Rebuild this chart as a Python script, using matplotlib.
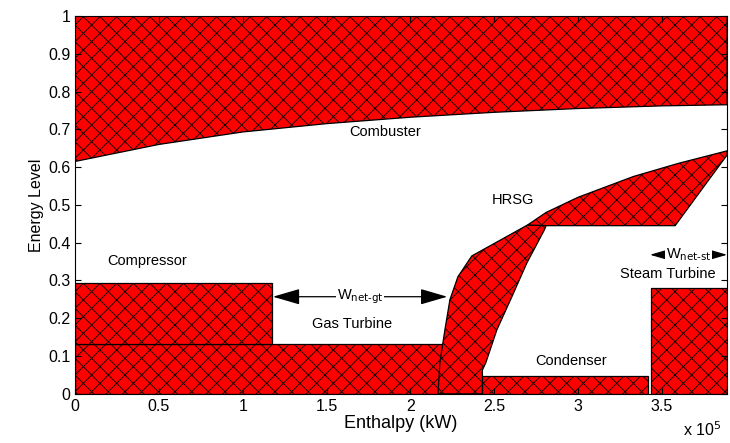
import matplotlib
matplotlib.use('Agg')
import matplotlib.pyplot as plt
import matplotlib.patches as mpatches
import numpy as np

plt.rcParams['font.family'] = ['Liberation Sans', 'DejaVu Sans']
plt.rcParams['hatch.linewidth'] = 0.6

# enthalpy in units of 1e5 kW, energy level 0..1
comb_x = [0.0, 0.5, 1.0, 1.5, 2.0, 2.5, 3.0, 3.5, 3.89]
comb_y = [0.615, 0.66, 0.693, 0.715, 0.732, 0.745, 0.755, 0.762, 0.765]

compressor = (0.0, 1.175, 0.132, 0.294)    # x0, x1, y0, y1
gas_turbine = (0.0, 2.2, 0.0, 0.132)
condenser = (2.43, 3.417, 0.0, 0.048)
steam_turbine = (3.435, 3.89, 0.0, 0.28)

hrsg_out_x = [2.165, 2.176, 2.206, 2.236, 2.284, 2.367, 2.70]
hrsg_out_y = [0.0, 0.082, 0.169, 0.249, 0.31, 0.365, 0.447]
hrsg_in_x = [2.43, 2.43, 2.45, 2.516, 2.606, 2.695, 2.80, 2.81]
hrsg_in_y = [0.0, 0.063, 0.082, 0.169, 0.257, 0.346, 0.434, 0.445]
hrsg_top_x = [2.70, 2.81, 3.0, 3.33, 3.6, 3.89]
hrsg_top_y = [0.447, 0.48, 0.52, 0.575, 0.61, 0.643]
hrsg_low_x = [3.89, 3.58, 2.81]
hrsg_low_y = [0.632, 0.445, 0.445]

x_max = 3.89

fig = plt.figure(figsize=(7.30, 4.43), dpi=100)
ax = fig.add_axes([0.103, 0.111, 0.893, 0.853])

style = dict(facecolor='#ff0000', edgecolor='black', hatch='xx', linewidth=0.9)

def rect(r):
    x0, x1, y0, y1 = r
    return mpatches.Rectangle((x0, y0), x1 - x0, y1 - y0, **style)

# combustor: from curve up to 1
top = list(zip(comb_x, comb_y)) + [(x_max, 1.0), (0.0, 1.0)]
ax.add_patch(mpatches.Polygon(top, closed=True, **style))

ax.add_patch(rect(gas_turbine))
ax.add_patch(rect(compressor))
ax.add_patch(rect(condenser))
ax.add_patch(rect(steam_turbine))

# HRSG lower band
low = list(zip(hrsg_out_x, hrsg_out_y)) + list(zip(hrsg_in_x, hrsg_in_y))[::-1]
ax.add_patch(mpatches.Polygon(low, closed=True, **style))
# HRSG upper band
up = list(zip(hrsg_top_x, hrsg_top_y)) + list(zip(hrsg_low_x, hrsg_low_y))
ax.add_patch(mpatches.Polygon(up, closed=True, **style))

fs = 10.5
ax.text(1.85, 0.693, 'Combuster', ha='center', va='center', fontsize=fs)
ax.text(2.61, 0.513, 'HRSG', ha='center', va='center', fontsize=fs)
ax.text(0.43, 0.352, 'Compressor', ha='center', va='center', fontsize=fs)
ax.text(1.65, 0.185, 'Gas Turbine', ha='center', va='center', fontsize=fs)
ax.text(2.96, 0.088, 'Condenser', ha='center', va='center', fontsize=fs)
ax.text(3.535, 0.317, 'Steam Turbine', ha='center', va='center', fontsize=fs)

arrow = dict(arrowstyle='-|>,head_length=1.2,head_width=0.35', color='black',
             lw=0.9, mutation_scale=14, shrinkA=0, shrinkB=0)
ax.annotate('', xy=(1.18, 0.257), xytext=(1.70, 0.257), arrowprops=arrow)
ax.annotate('', xy=(2.22, 0.257), xytext=(1.70, 0.257), arrowprops=arrow)
ax.text(1.70, 0.257, r'W$_{\mathrm{net\text{-}gt}}$', ha='center', va='center',
        fontsize=fs, bbox=dict(facecolor='white', edgecolor='none', pad=0.3))
ax.annotate('', xy=(3.43, 0.368), xytext=(3.66, 0.368), arrowprops=arrow)
ax.annotate('', xy=(3.89, 0.368), xytext=(3.66, 0.368), arrowprops=arrow)
ax.text(3.66, 0.368, r'W$_{\mathrm{net\text{-}st}}$', ha='center', va='center',
        fontsize=fs, bbox=dict(facecolor='white', edgecolor='none', pad=0.3))

ax.set_xlim(0, x_max)
ax.set_ylim(0, 1)
ax.set_xticks(np.arange(0, 3.6, 0.5))
ax.set_xticklabels(['0', '0.5', '1', '1.5', '2', '2.5', '3', '3.5'])
ax.set_yticks(np.arange(0, 1.01, 0.1))
ax.set_yticklabels(['0', '0.1', '0.2', '0.3', '0.4', '0.5', '0.6', '0.7', '0.8', '0.9', '1'])
ax.tick_params(direction='in', top=True, right=True, labelsize=11.5, length=4)
ax.set_xlabel('Enthalpy (kW)', fontsize=13, labelpad=1)
ax.set_ylabel('Energy Level', fontsize=11.5, labelpad=3)
fig.text(0.935, 0.015, r'x 10$^5$', fontsize=11.5)

plt.savefig('out.png', dpi=100)
